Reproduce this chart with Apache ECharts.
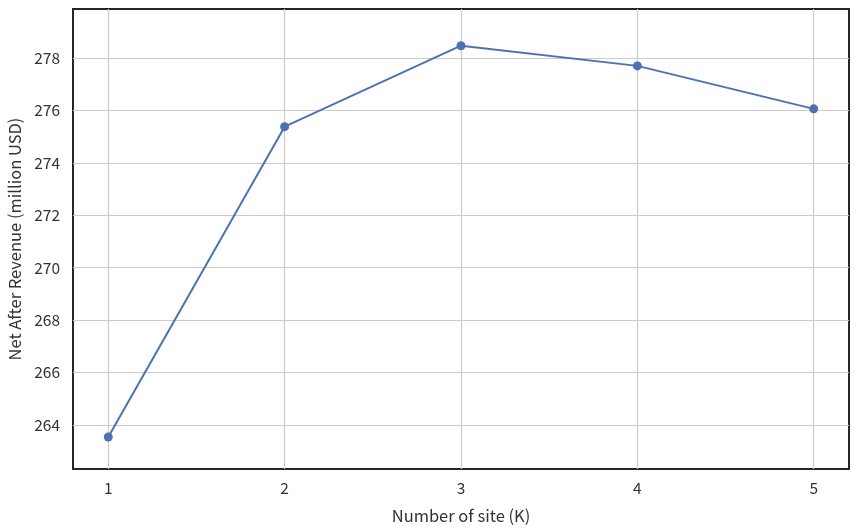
<!DOCTYPE html>
<html>
<head>
<meta charset="utf-8">
<script src="https://cdn.jsdelivr.net/npm/echarts@6/dist/echarts.min.js"></script>
<style>
  html, body { margin: 0; padding: 0; background: #fff; }
  #chart { width: 858px; height: 532px; }
</style>
</head>
<body>
<div id="chart"></div>
<script>
var sites = [1, 2, 3, 4, 5];
var revenue = [263.54, 275.38, 278.47, 277.70, 276.06];
var yTicks = [264, 266, 268, 270, 272, 274, 276, 278];

var font = '"Noto Sans CJK KR", "Noto Sans", sans-serif';
var chart = echarts.init(document.getElementById('chart'));
chart.setOption({
    animation: false,
    textStyle: { fontFamily: font },
    grid: {
        left: 73, right: 9, top: 9, bottom: 63,
        outerBoundsMode: 'none',
        show: true,
        borderColor: '#262626',
        borderWidth: 2
    },
    xAxis: {
        type: 'value',
        min: 0.8, max: 5.2,
        name: 'Number of site (K)',
        nameLocation: 'middle',
        nameGap: 38,
        nameTextStyle: { fontSize: 16.5, color: '#333', fontFamily: font },
        axisLine: { show: false },
        axisTick: { show: false, customValues: sites },
        axisLabel: {
            fontSize: 15.5, color: '#333', margin: 11, fontFamily: font,
            customValues: sites
        },
        splitLine: { show: true, lineStyle: { color: '#cccccc', width: 1.2 } }
    },
    yAxis: {
        type: 'value',
        min: 262.32, max: 279.87,
        name: 'Net After Revenue (million USD)',
        nameLocation: 'middle',
        nameGap: 48,
        nameTextStyle: { fontSize: 16.5, color: '#333', fontFamily: font },
        axisLine: { show: false },
        axisTick: { show: false, customValues: yTicks },
        axisLabel: {
            fontSize: 15.5, color: '#333', margin: 13, fontFamily: font,
            customValues: yTicks
        },
        splitLine: { show: true, lineStyle: { color: '#cccccc', width: 1.2 } }
    },
    series: [{
        type: 'line',
        data: sites.map(function (s, i) { return [s, revenue[i]]; }),
        symbol: 'circle',
        symbolSize: 9,
        lineStyle: { color: '#4c72b0', width: 2 },
        itemStyle: { color: '#4c72b0' }
    }]
});
</script>
</body>
</html>
